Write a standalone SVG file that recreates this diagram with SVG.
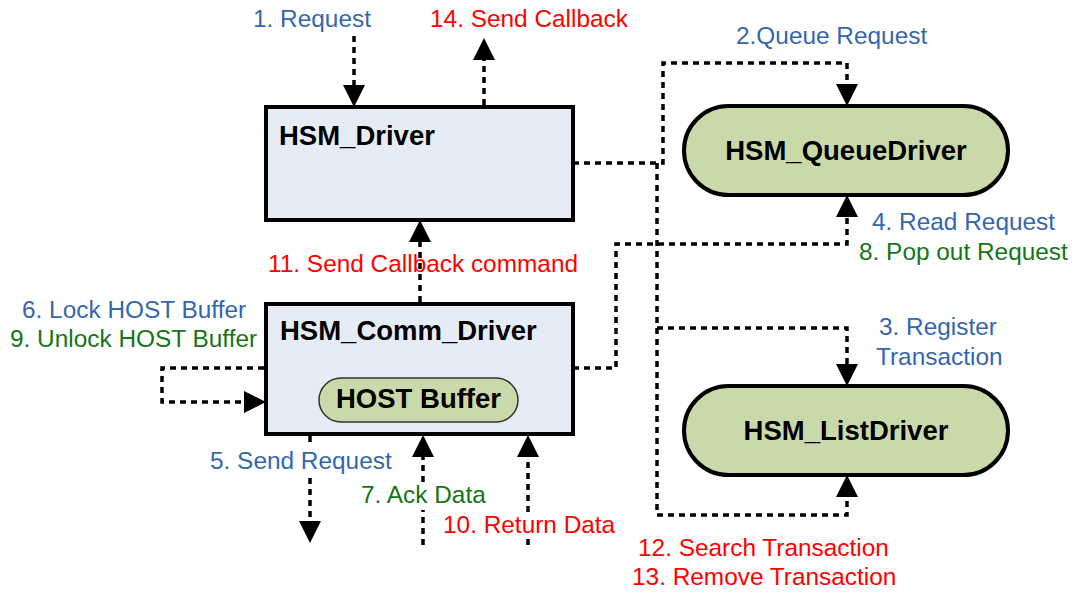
<svg xmlns="http://www.w3.org/2000/svg" width="1078" height="595" viewBox="0 0 1078 595">
<defs>
<style>
.lbl{font-family:"Liberation Sans",Arial,sans-serif;font-size:24.4px}
.blue{fill:#3566B0}
.red{fill:#FF0000}
.green{fill:#177517}
.title{font-family:"Liberation Sans",Arial,sans-serif;font-size:27.5px;font-weight:bold;fill:#000}
.box{fill:#E6ECF6;stroke:#000;stroke-width:4}
.pill{fill:#CAD9A9;stroke:#000;stroke-width:4}
.conn{fill:none;stroke:#000;stroke-width:3.5;stroke-dasharray:6 5}
</style>
<marker id="ah" viewBox="0 0 22 22" refX="0" refY="11" markerWidth="22" markerHeight="22" markerUnits="userSpaceOnUse" orient="auto">
<path d="M0,0 L22,11 L0,22 z" fill="#000"/>
</marker>
</defs>
<rect width="1078" height="595" fill="#fff"/>

<g id="connectors">
<path class="conn" d="M354,36 V85" marker-end="url(#ah)"/>
<path class="conn" d="M484,105 V60" marker-end="url(#ah)"/>
<path class="conn" d="M573,163 H663 V63 H847 V84" marker-end="url(#ah)"/>
<path class="conn" d="M657,328 H847 V364" marker-end="url(#ah)"/>
<path class="conn" d="M573,368 H616 V244 H847 V217" marker-end="url(#ah)"/>
<path class="conn" d="M657,163 V515 H847 V497" marker-end="url(#ah)"/>
<path class="conn" d="M420,302 V242" marker-end="url(#ah)"/>
<path class="conn" d="M264,368 H162 V402 H244" marker-end="url(#ah)"/>
<path class="conn" d="M310,436 V447"/>
<path class="conn" d="M310,478 V521" marker-end="url(#ah)"/>
<path class="conn" d="M423,545 V510"/>
<path class="conn" d="M423,482 V457" marker-end="url(#ah)"/>
<path class="conn" d="M528,545 V539"/>
<path class="conn" d="M528,512 V457" marker-end="url(#ah)"/>
</g>

<g id="hsm_driver">
<rect class="box" x="266" y="107" width="307" height="113"/>
<text class="title" x="279" y="145">HSM_Driver</text>
</g>

<g id="hsm_comm_driver">
<rect class="box" x="266" y="304" width="307" height="130"/>
<text class="title" x="280" y="340">HSM_Comm_Driver</text>
</g>

<g id="host_buffer">
<rect x="319" y="378" width="199" height="44" rx="22" ry="22" fill="#CAD9A9" stroke="#333" stroke-width="1.5"/>
<text class="title" x="418.5" y="408" text-anchor="middle">HOST Buffer</text>
</g>

<g id="hsm_queuedriver">
<rect class="pill" x="684" y="106" width="324" height="89" rx="44.5" ry="44.5"/>
<text class="title" x="846" y="160" text-anchor="middle">HSM_QueueDriver</text>
</g>

<g id="hsm_listdriver">
<rect class="pill" x="684" y="386" width="324" height="89" rx="44.5" ry="44.5"/>
<text class="title" x="846" y="440" text-anchor="middle">HSM_ListDriver</text>
</g>

<g id="labels">
<text class="lbl blue" x="253" y="27">1. Request</text>
<text class="lbl red" x="430" y="27">14. Send Callback</text>
<text class="lbl blue" x="736" y="44">2.Queue Request</text>
<text class="lbl blue" x="872" y="230">4. Read Request</text>
<text class="lbl green" x="859" y="260">8. Pop out Request</text>
<text class="lbl blue" x="879" y="335">3. Register</text>
<text class="lbl blue" x="876" y="365">Transaction</text>
<text class="lbl red" x="638" y="556">12. Search Transaction</text>
<text class="lbl red" x="632" y="585">13. Remove Transaction</text>
<text class="lbl red" x="268" y="272">11. Send Callback command</text>
<text class="lbl blue" x="22" y="318">6. Lock HOST Buffer</text>
<text class="lbl green" x="10" y="347">9. Unlock HOST Buffer</text>
<text class="lbl blue" x="210" y="469">5. Send Request</text>
<text class="lbl green" x="361" y="503">7. Ack Data</text>
<text class="lbl red" x="443" y="533">10. Return Data</text>
</g>
</svg>
